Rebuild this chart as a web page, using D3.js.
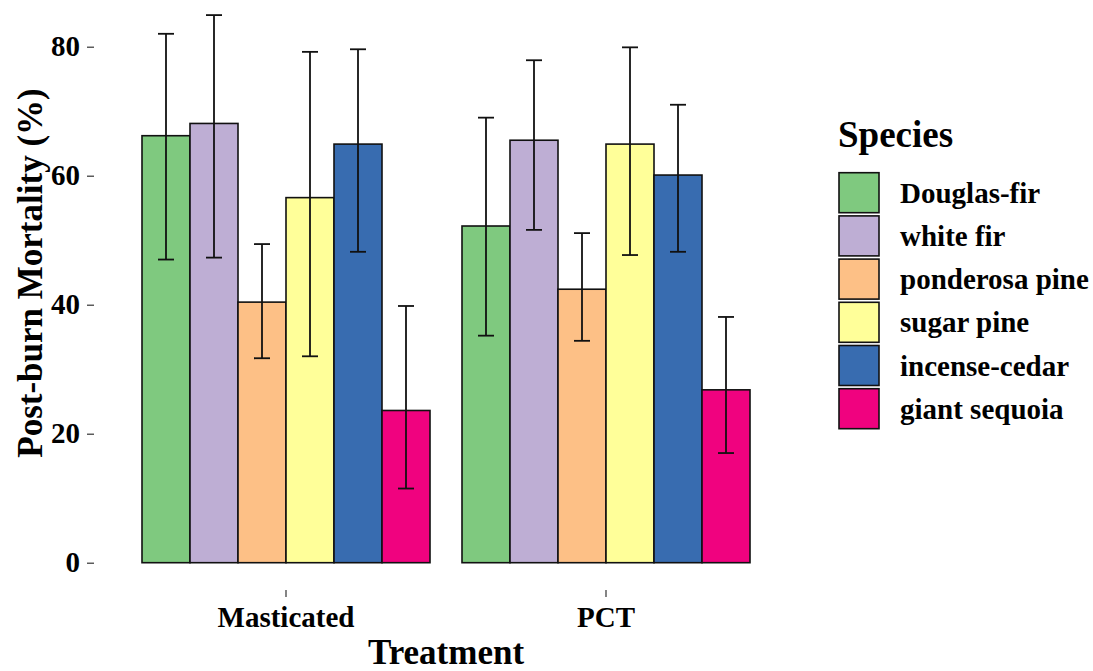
<!DOCTYPE html>
<html>
<head>
<meta charset="utf-8">
<script src="https://cdn.jsdelivr.net/npm/d3@7"></script>
<style>
  html, body { margin: 0; padding: 0; background: #fff; }
  svg { display: block; }
  text { font-family: "Liberation Serif", "Times New Roman", serif; font-weight: bold; fill: #000; }
</style>
</head>
<body>
<svg id="chart" width="1093" height="671"></svg>
<script>
// ---- data ----
const treatments = ["Masticated", "PCT"];
const species = ["Douglas-fir", "white fir", "ponderosa pine", "sugar pine", "incense-cedar", "giant sequoia"];
const colors = ["#7FC97F", "#BEAED4", "#FDC086", "#FFFF99", "#386CB0", "#F0027F"];
const masticatedMean  = [66.2, 68.1, 40.4, 56.6, 64.9, 23.6];
const masticatedUpper = [82.0, 84.9, 49.4, 79.2, 79.6, 39.8];
const masticatedLower = [47.0, 47.3, 31.7, 32.0, 48.2, 11.5];
const pctMean  = [52.2, 65.5, 42.4, 64.9, 60.1, 26.8];
const pctUpper = [69.0, 77.9, 51.1, 79.9, 71.0, 38.1];
const pctLower = [35.2, 51.6, 34.4, 47.7, 48.2, 17.0];
const yTicks = [0, 20, 40, 60, 80];

const means = {Masticated: masticatedMean, PCT: pctMean};
const uppers = {Masticated: masticatedUpper, PCT: pctUpper};
const lowers = {Masticated: masticatedLower, PCT: pctLower};

const rows = [];
treatments.forEach(t => species.forEach((s, i) => rows.push({
  treatment: t, species: s, mean: means[t][i], upper: uppers[t][i], lower: lowers[t][i]
})));

const svg = d3.select("#chart");

// ---- scales ----
const panelLeft = 94, panelRight = 798, panelBottom = 590;
const x0 = d3.scaleBand().domain(treatments).range([panelLeft, panelRight])
  .paddingInner(0.1).paddingOuter(0.15);
const x1 = d3.scaleBand().domain(species).range([0, x0.bandwidth()]).padding(0);
const y = d3.scaleLinear().domain([0, 80]).range([562.7, 46.7]);
const color = d3.scaleOrdinal().domain(species).range(colors);

// ---- bars ----
const g = svg.append("g");
g.selectAll("rect.bar").data(rows).enter().append("rect")
  .attr("class", "bar")
  .attr("x", d => x0(d.treatment) + x1(d.species))
  .attr("width", x1.bandwidth())
  .attr("y", d => y(d.mean))
  .attr("height", d => y(0) - y(d.mean))
  .attr("fill", d => color(d.species))
  .attr("stroke", "#111")
  .attr("stroke-width", 1.6);

// ---- error bars ----
const capHalf = 8;
const eb = g.selectAll("g.eb").data(rows).enter().append("g").attr("class", "eb")
  .attr("stroke", "#111").attr("stroke-width", 1.8);
const cx = d => x0(d.treatment) + x1(d.species) + x1.bandwidth() / 2;
eb.append("line").attr("x1", cx).attr("x2", cx).attr("y1", d => y(d.lower)).attr("y2", d => y(d.upper));
eb.append("line").attr("x1", d => cx(d) - capHalf).attr("x2", d => cx(d) + capHalf)
  .attr("y1", d => y(d.upper)).attr("y2", d => y(d.upper));
eb.append("line").attr("x1", d => cx(d) - capHalf).attr("x2", d => cx(d) + capHalf)
  .attr("y1", d => y(d.lower)).attr("y2", d => y(d.lower));

// ---- y axis ----
const yAxis = d3.axisLeft(y).tickValues(yTicks).tickSize(7).tickPadding(7);
const ya = svg.append("g").attr("transform", `translate(${panelLeft},0)`).call(yAxis);
ya.select(".domain").remove();
ya.selectAll(".tick line").attr("stroke", "#333").attr("stroke-width", 1.2);
ya.selectAll(".tick text").attr("font-size", 29).attr("font-family", "Liberation Serif")
  .attr("font-weight", "bold").attr("fill", "#000");

// ---- x axis ----
const xAxis = d3.axisBottom(x0).tickSize(7).tickPadding(9);
const xa = svg.append("g").attr("transform", `translate(0,${panelBottom})`).call(xAxis);
xa.select(".domain").remove();
xa.selectAll(".tick line").attr("stroke", "#333").attr("stroke-width", 1.2);
xa.selectAll(".tick text").attr("font-size", 29).attr("font-family", "Liberation Serif")
  .attr("font-weight", "bold").attr("fill", "#000");

// ---- axis titles ----
svg.append("text").attr("x", (panelLeft + panelRight) / 2).attr("y", 664)
  .attr("text-anchor", "middle").attr("font-size", 35).text("Treatment");
svg.append("text").attr("transform", "translate(42,273) rotate(-90)")
  .attr("text-anchor", "middle").attr("font-size", 35).text("Post-burn Mortality (%)");

// ---- legend ----
const leg = svg.append("g").attr("transform", "translate(839,0)");
leg.append("text").attr("x", -1).attr("y", 147).attr("font-size", 37).text("Species");
const items = leg.selectAll("g.item").data(species).enter().append("g").attr("class", "item")
  .attr("transform", (d, i) => `translate(0,${172.7 + i * 43.2})`);
items.append("rect").attr("width", 40).attr("height", 40)
  .attr("fill", d => color(d)).attr("stroke", "#111").attr("stroke-width", 1.6);
items.append("text").attr("x", 61).attr("y", 20).attr("dy", "0.35em")
  .attr("font-size", 29).text(d => d);
</script>
</body>
</html>
